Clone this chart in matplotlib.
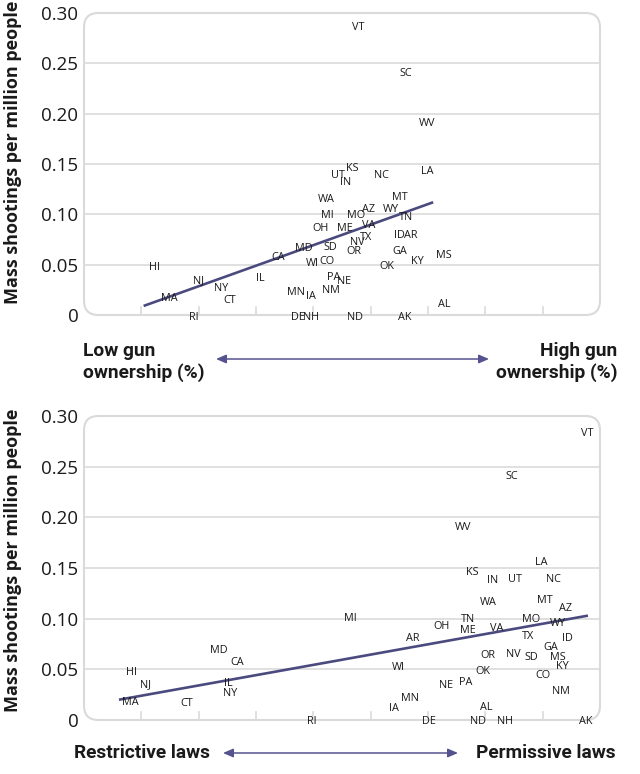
import matplotlib
matplotlib.use("Agg")
import matplotlib.pyplot as plt
from matplotlib.patches import FancyBboxPatch, FancyArrowPatch

# ---------------- data ----------------
# Panel 1: gun ownership (arbitrary scale 0-9) vs mass shootings per million people
own_states = ["VT", "SC", "WV", "KS", "UT", "IN", "NC", "LA", "MT", "WA", "MI", "MO",
              "AZ", "WY", "TN", "OH", "ME", "VA", "ID", "AR", "TX", "NV", "MD", "SD",
              "OR", "GA", "CA", "MS", "KY", "WI", "CO", "OK", "HI", "IL", "NJ", "PA",
              "NE", "NY", "NM", "MN", "IA", "MA", "CT", "AL", "RI", "DE", "NH", "ND", "AK"]
own_x = [4.79, 5.62, 5.98, 4.68, 4.43, 4.57, 5.19, 5.98, 5.51, 4.23, 4.25, 4.74,
         4.96, 5.36, 5.62, 4.13, 4.55, 4.97, 5.51, 5.70, 4.92, 4.76, 3.84, 4.30,
         4.71, 5.51, 3.38, 6.27, 5.81, 3.98, 4.24, 5.29, 1.23, 3.07, 1.99, 4.35,
         4.53, 2.40, 4.31, 3.69, 3.96, 1.49, 2.54, 6.28, 1.91, 3.74, 3.96, 4.72, 5.59]
own_y = [0.286, 0.240, 0.190, 0.146, 0.139, 0.132, 0.139, 0.143, 0.117, 0.115, 0.099, 0.099,
         0.105, 0.105, 0.097, 0.086, 0.086, 0.089, 0.079, 0.079, 0.077, 0.072, 0.066, 0.067,
         0.063, 0.063, 0.057, 0.059, 0.053, 0.051, 0.053, 0.048, 0.047, 0.036, 0.034, 0.037,
         0.033, 0.026, 0.024, 0.022, 0.018, 0.016, 0.014, 0.010, -0.002, -0.002, -0.002, -0.002, -0.002]
own_trend_x = [1.04, 6.09]
own_trend_y = [0.009, 0.112]

# Panel 2: gun law permissiveness (arbitrary scale 0-9) vs mass shootings per million people
law_states = ["VT", "SC", "WV", "LA", "KS", "IN", "UT", "NC", "WA", "MT", "AZ", "MI",
              "TN", "MO", "WY", "OH", "ME", "VA", "AR", "TX", "ID", "MD", "GA", "OR",
              "NV", "SD", "MS", "CA", "KY", "WI", "HI", "OK", "CO", "NJ", "IL", "PA",
              "NE", "NY", "NM", "MN", "MA", "CT", "IA", "AL", "RI", "DE", "ND", "NH", "AK"]
law_x = [8.77, 7.47, 6.62, 7.98, 6.78, 7.12, 7.52, 8.18, 7.06, 8.04, 8.39, 4.64,
         6.70, 7.80, 8.27, 6.23, 6.69, 7.19, 5.74, 7.74, 8.43, 2.36, 8.14, 7.05,
         7.48, 7.80, 8.27, 2.68, 8.34, 5.49, 0.82, 6.96, 8.01, 1.07, 2.52, 6.66,
         6.31, 2.55, 8.31, 5.68, 0.81, 1.80, 5.40, 7.01, 3.97, 6.02, 6.87, 7.35, 8.75]
law_y = [0.283, 0.240, 0.190, 0.155, 0.146, 0.138, 0.139, 0.139, 0.116, 0.118, 0.110, 0.100,
         0.099, 0.099, 0.095, 0.092, 0.088, 0.090, 0.080, 0.082, 0.080, 0.069, 0.072, 0.064,
         0.065, 0.062, 0.062, 0.057, 0.053, 0.052, 0.047, 0.048, 0.044, 0.035, 0.036, 0.037,
         0.034, 0.026, 0.028, 0.021, 0.017, 0.016, 0.011, 0.012, -0.001, -0.001, -0.001, -0.001, -0.001]
law_trend_x = [0.61, 8.79]
law_trend_y = [0.020, 0.103]

y_ticks = [0, 0.05, 0.10, 0.15, 0.20, 0.25, 0.30]
y_tick_labels = ["0", "0.05", "0.10", "0.15", "0.20", "0.25", "0.30"]
x_ticks = [1, 2, 3, 4, 5, 6, 7, 8]

LINE = "#4b4a7e"
ARROW = "#55538f"
GRID = "#dadada"
TXT = "#1a1a1a"
BOLD_FONT = ["Roboto", "DejaVu Sans"]
YLAB_FONT = ["Open Sans", "DejaVu Sans"]
LIGHT_FONT = ["Open Sans", "DejaVu Sans"]

W, H = 640, 774
fig = plt.figure(figsize=(6.4, 7.74), dpi=100)


def panel(rect, states, xs, ys, tx, ty):
    ax = fig.add_axes(rect)
    ax.set_xlim(0, 9)
    ax.set_ylim(0, 0.30)
    for s in ax.spines.values():
        s.set_visible(False)
    ax.set_xticks([])
    ax.set_yticks(y_ticks)
    ax.set_yticklabels(y_tick_labels, fontsize=13.5, color=TXT, family=LIGHT_FONT)
    ax.tick_params(axis="y", length=0, pad=4)
    for t in y_ticks[1:-1]:
        ax.axhline(t, color=GRID, lw=1.2, zorder=1)
    for t in x_ticks:
        ax.plot([t, t], [0, 0.0075], color=GRID, lw=1.2, zorder=1, clip_on=False)
    w_px = rect[2] * W
    h_px = rect[3] * H
    rs = 0.028
    box = FancyBboxPatch((0, 0), 1, 1, boxstyle=f"round,pad=0,rounding_size={rs}",
                         mutation_aspect=w_px / h_px,
                         transform=ax.transAxes, facecolor="none",
                         edgecolor=GRID, lw=1.5, zorder=1, clip_on=False)
    ax.add_patch(box)
    ax.plot(tx, ty, color=LINE, lw=1.9, zorder=2, solid_capstyle="butt")
    for s, x, y in zip(states, xs, ys):
        ax.text(x, y, s, ha="center", va="center", fontsize=7.8, color=TXT,
                family=LIGHT_FONT, zorder=3)
    return ax


ax1 = panel([84 / W, 1 - 315 / H, 516 / W, 302 / H],
            own_states, own_x, own_y, own_trend_x, own_trend_y)
ax2 = panel([84 / W, 1 - 720 / H, 516 / W, 304 / H],
            law_states, law_x, law_y, law_trend_x, law_trend_y)

# y-axis labels
for yc in (152, 560):
    fig.text(13 / W, 1 - yc / H, "Mass shootings per million people", rotation=90,
             ha="center", va="center", fontsize=13, fontweight="bold", color=TXT,
             family=YLAB_FONT)


def arrow(x0, x1, y):
    fig.patches.append(FancyArrowPatch(
        (x0 / W, 1 - y / H), (x1 / W, 1 - y / H), transform=fig.transFigure,
        arrowstyle="<|-|>,head_length=6,head_width=2.6", color=ARROW, lw=1.1,
        shrinkA=0, shrinkB=0))


# bottom annotations panel 1
fig.text(83 / W, 1 - 362 / H, "Low gun\nownership (%)", ha="left", va="center",
         fontsize=13.8, fontweight="bold", color=TXT, family=BOLD_FONT, linespacing=1.2)
fig.text(617 / W, 1 - 362 / H, "High gun\nownership (%)", ha="right", va="center",
         fontsize=13.8, fontweight="bold", color=TXT, family=BOLD_FONT, linespacing=1.2,
         multialignment="right")
arrow(216, 489, 359)

# bottom annotations panel 2
fig.text(74 / W, 1 - 753 / H, "Restrictive laws", ha="left", va="center",
         fontsize=13.8, fontweight="bold", color=TXT, family=BOLD_FONT)
fig.text(616 / W, 1 - 753 / H, "Permissive laws", ha="right", va="center",
         fontsize=13.8, fontweight="bold", color=TXT, family=BOLD_FONT)
arrow(223, 458, 753)

fig.savefig("out.png", dpi=100, facecolor="white")
